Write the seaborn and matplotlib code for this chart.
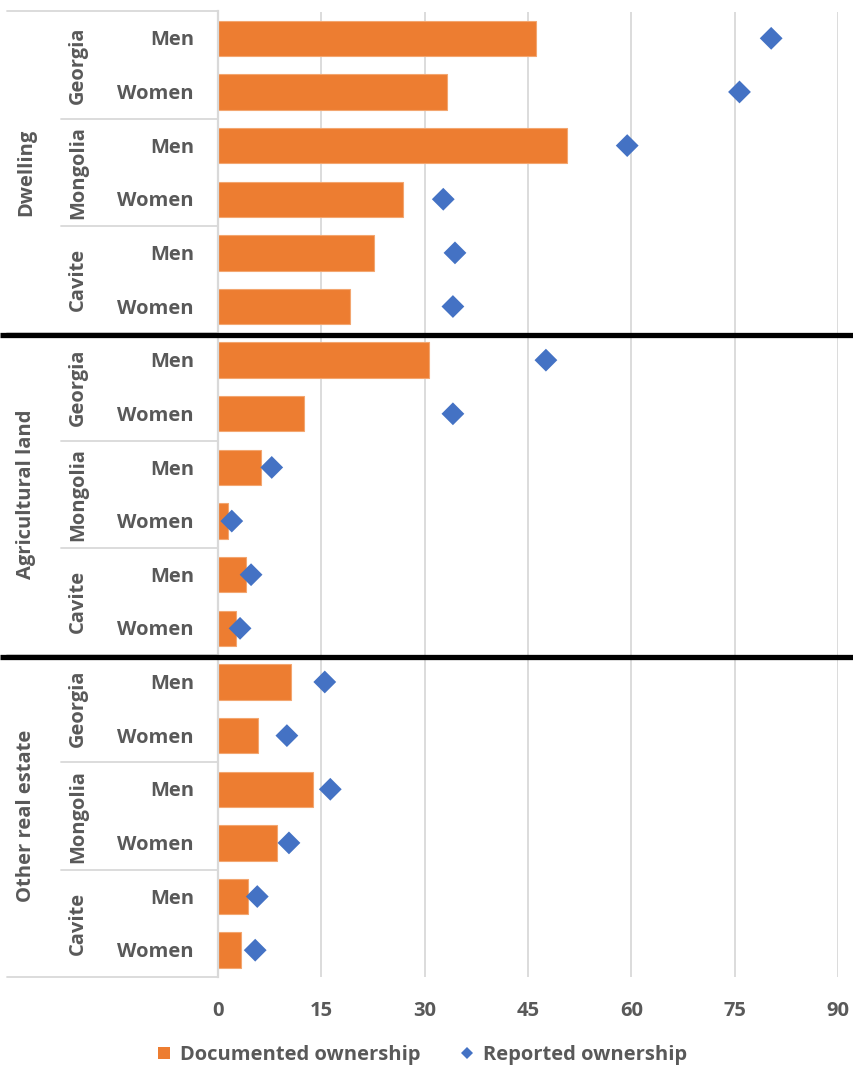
import matplotlib
matplotlib.use("Agg")
import matplotlib.pyplot as plt
import seaborn as sns
import pandas as pd
from matplotlib.lines import Line2D

# --- data -------------------------------------------------------------
assets = ["Dwelling", "Agricultural land", "Other real estate"]
countries = ["Georgia", "Mongolia", "Cavite"]
sexes = ["Men", "Women"]

documented = [46.2, 33.3, 50.7, 26.9, 22.6, 19.2,
              30.6, 12.5, 6.2, 1.5, 4.1, 2.6,
              10.6, 5.8, 13.8, 8.6, 4.4, 3.3]
reported = [80.3, 75.7, 59.4, 32.7, 34.4, 34.1,
            47.6, 34.1, 7.8, 2.0, 4.8, 3.2,
            15.5, 10.0, 16.3, 10.3, 5.7, 5.4]
x_ticks = [0, 15, 30, 45, 60, 75, 90]

# --- styling ----------------------------------------------------------
ORANGE = "#ED7D31"
BLUE = "#4472C4"
TEXT = "#595959"
GRID = "#D9D9D9"
FS = 14.5

sns.set_theme(style="white")
plt.rcParams["font.family"] = ["Open Sans", "DejaVu Sans"]
plt.rcParams["font.weight"] = "bold"

rows = []
for a in assets:
    for c in countries:
        for s in sexes:
            rows.append((a, c, s))
df = pd.DataFrame(rows, columns=["asset", "country", "sex"])
df["row"] = df["asset"] + "|" + df["country"] + "|" + df["sex"]
df["documented"] = documented
df["reported"] = reported
df["pos"] = range(len(df))

fig = plt.figure(figsize=(8.54, 10.65), dpi=100)
W, H = 854, 1065
ax_left, ax_right, ax_top, ax_bottom = 218, 838, 11.5, 977
ax = fig.add_axes([ax_left / W, 1 - ax_bottom / H,
                   (ax_right - ax_left) / W, (ax_bottom - ax_top) / H])

sns.barplot(data=df, x="documented", y="row", orient="h", color=ORANGE,
            saturation=1, width=0.66, edgecolor="#F3A670", linewidth=0.8,
            ax=ax, zorder=2)
sns.scatterplot(data=df, x="reported", y="pos", marker="D", s=135,
                color=BLUE, edgecolor="none", ax=ax, zorder=3, legend=False)

n = len(df)
ax.set_xlim(0, 90)
ax.set_ylim(n - 0.5, -0.5)
ax.set_xticks(x_ticks)
ax.set_xticklabels([str(t) for t in x_ticks])
ax.set_yticks([])
ax.set_xlabel("")
ax.set_ylabel("")
ax.tick_params(axis="x", length=0, pad=17, labelsize=FS, labelcolor=TEXT)
for lbl in ax.get_xticklabels():
    lbl.set_fontweight("bold")
ax.xaxis.grid(True, color=GRID, lw=1.3)
ax.set_axisbelow(True)
for side in ["top", "right", "bottom"]:
    ax.spines[side].set_visible(False)
ax.spines["left"].set_color(GRID)
ax.spines["left"].set_linewidth(1.6)

# --- hierarchical row labels ------------------------------------------
span = ax_right - ax_left
def ax_x(px):
    return (px - ax_left) / span

yt = ax.get_yaxis_transform()
for i, s in enumerate(df["sex"]):
    ax.text(ax_x(194), i + 0.04, s, transform=yt, ha="right", va="center",
            fontsize=FS, fontweight="bold", color=TEXT)

for a_i, a in enumerate(assets):
    base = a_i * 6
    ax.text(ax_x(26), base + 2.5, a, transform=yt, rotation=90,
            ha="center", va="center", fontsize=FS, fontweight="bold",
            color=TEXT)
    for c_i, c in enumerate(countries):
        ax.text(ax_x(78), base + c_i * 2 + 0.5, c, transform=yt,
                rotation=90, ha="center", va="center", fontsize=FS,
                fontweight="bold", color=TEXT)
        if c_i > 0:
            yb = base + c_i * 2 - 0.5
            ax.plot([ax_x(61), 0], [yb, yb], transform=yt, color=GRID,
                    lw=1.3, clip_on=False, zorder=1)

for yb in [-0.5, 5.5, 11.5, n - 0.5]:
    ax.plot([ax_x(7), 0], [yb, yb], transform=yt, color=GRID, lw=1.3,
            clip_on=False, zorder=1)

# heavy separators between asset groups
for yb in [5.5, 11.5]:
    ax.plot([ax_x(0), ax_x(W)], [yb + 0.03, yb + 0.03], transform=yt,
            color="black", lw=3.8, clip_on=False, zorder=5,
            solid_capstyle="butt")

# --- legend -----------------------------------------------------------
handles = [
    Line2D([], [], marker="s", ls="none", color=ORANGE, markersize=8.6,
           markeredgewidth=0, label="Documented ownership"),
    Line2D([], [], marker="D", ls="none", color=BLUE, markersize=6.2,
           markeredgewidth=0, label="Reported ownership"),
]
leg = fig.legend(handles=handles, loc="center", ncol=2, frameon=False,
                 bbox_to_anchor=(421.5 / W, 1 - 1055 / H),
                 prop={"size": FS, "weight": "bold"}, handlelength=0.8,
                 handletextpad=0.4, columnspacing=1.9)
for t in leg.get_texts():
    t.set_color(TEXT)

fig.savefig("out.png", dpi=100)
